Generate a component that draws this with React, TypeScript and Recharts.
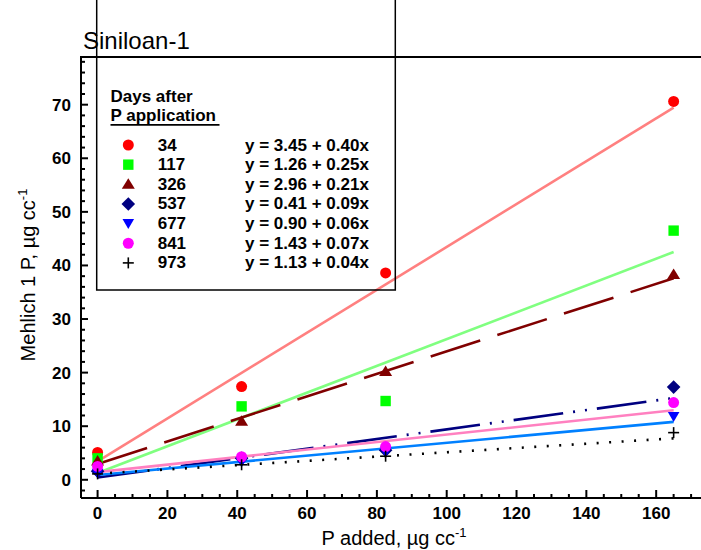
import { ComposedChart, Line, Scatter, XAxis, YAxis } from 'recharts'

// P added (µg/cc) at which the soil was sampled
const pAdded = [0, 41.25, 82.5, 165]

// Mehlich 1 P measured, one array per sampling date
const day34 = [5.1, 17.4, 38.6, 70.6]
const day117 = [4.0, 13.7, 14.7, 46.5]
const day326 = [3.5, 10.9, 20.2, 38.3]
const day537 = [1.6, 4.0, 5.5, 17.3]
const day677 = [1.2, 3.3, 5.2, 11.8]
const day841 = [2.5, 4.3, 6.2, 14.4]
const day973 = [1.1, 2.8, 4.4, 8.8]

// fitted lines, value at each end of fitX (from the printed equations)
const fitX = [0, 165]
const fit34 = [3.45, 69.45]
const fit117 = [1.26, 42.51]
const fit326 = [2.96, 37.61]
const fit537 = [0.41, 15.26]
const fit677 = [0.9, 10.8]
const fit841 = [1.43, 12.98]
const fit973 = [1.13, 7.73]

const dayLabels = ['34', '117', '326', '537', '677', '841', '973']
const equations = [
  'y = 3.45 + 0.40x',
  'y = 1.26 + 0.25x',
  'y = 2.96 + 0.21x',
  'y = 0.41 + 0.09x',
  'y = 0.90 + 0.06x',
  'y = 1.43 + 0.07x',
  'y = 1.13 + 0.04x',
]

const xMajor = [0, 20, 40, 60, 80, 100, 120, 140, 160]
const yMajor = [0, 10, 20, 30, 40, 50, 60, 70]
const xTicks: number[] = []
for (let v = 0; v <= 180; v += 5) xTicks.push(v)
const yTicks: number[] = []
for (let v = -2; v <= 78; v += 2) yTicks.push(v)

const FONT = '"Liberation Sans", Arial, sans-serif'

type Kind = 'circle' | 'square' | 'triUp' | 'diamond' | 'triDown' | 'plus'

const series = [
  { measured: day34, fit: fit34, kind: 'circle' as Kind, color: '#ff0000', line: '#ff8080', dash: undefined },
  { measured: day117, fit: fit117, kind: 'square' as Kind, color: '#00ff00', line: '#80ff80', dash: undefined },
  { measured: day326, fit: fit326, kind: 'triUp' as Kind, color: '#800000', line: '#800000', dash: '52 18' },
  { measured: day537, fit: fit537, kind: 'diamond' as Kind, color: '#000080', line: '#000080', dash: '50 10 2 10 2 10' },
  { measured: day677, fit: fit677, kind: 'triDown' as Kind, color: '#0000ff', line: '#0080ff', dash: undefined },
  { measured: day841, fit: fit841, kind: 'circle' as Kind, color: '#ff00ff', line: '#ff80c0', dash: undefined },
  { measured: day973, fit: fit973, kind: 'plus' as Kind, color: '#000000', line: '#000000', dash: '2 10.5' },
]

function Marker({ cx, cy, kind, color }: { cx: number; cy: number; kind: Kind; color: string }) {
  if (cx == null || cy == null) return null
  switch (kind) {
    case 'circle':
      return <circle cx={cx} cy={cy} r={5.5} fill={color} />
    case 'square':
      return <rect x={cx - 5.2} y={cy - 5.2} width={10.4} height={10.4} fill={color} />
    case 'triUp':
      return <polygon points={`${cx - 6.5},${cy + 4.5} ${cx + 6.5},${cy + 4.5} ${cx},${cy - 6}`} fill={color} />
    case 'triDown':
      return <polygon points={`${cx - 5.8},${cy - 4.5} ${cx + 5.8},${cy - 4.5} ${cx},${cy + 5.5}`} fill={color} />
    case 'diamond':
      return <polygon points={`${cx},${cy - 6.8} ${cx + 6.8},${cy} ${cx},${cy + 6.8} ${cx - 6.8},${cy}`} fill={color} />
    default:
      return (
        <g stroke={color} strokeWidth={1.6}>
          <line x1={cx - 5.5} x2={cx + 5.5} y1={cy} y2={cy} />
          <line x1={cx} x2={cx} y1={cy - 5.5} y2={cy + 5.5} />
        </g>
      )
  }
}

function XTick({ x, y, payload }: any) {
  const v = payload.value
  const major = xMajor.includes(v)
  return (
    <g>
      <line x1={x} x2={x} y1={y} y2={y - (major ? 8 : 4)} stroke="#000" strokeWidth={2} />
      {major && (
        <text x={x} y={y + 21} textAnchor="middle" fontFamily={FONT} fontWeight="bold" fontSize={17} fill="#000">
          {v}
        </text>
      )}
    </g>
  )
}

function YTick({ x, y, payload }: any) {
  const v = payload.value
  const major = yMajor.includes(v)
  return (
    <g>
      <line x1={x} x2={x + (major ? 7 : 4)} y1={y} y2={y} stroke="#000" strokeWidth={2} />
      {major && (
        <text x={x - 10} y={y + 6} textAnchor="end" fontFamily={FONT} fontWeight="bold" fontSize={17} fill="#000">
          {v}
        </text>
      )}
    </g>
  )
}

export default function App() {
  return (
    <div style={{ position: 'absolute', left: 0, top: 0, width: 701, height: 550, overflow: 'hidden', background: '#fff' }}>
      <ComposedChart width={740} height={550} margin={{ top: 57, right: 14, bottom: 0, left: 0 }}>
        <XAxis
          type="number"
          dataKey="x"
          domain={[-4.75, 180]}
          allowDataOverflow
          ticks={xTicks}
          interval={0}
          tickSize={0}
          tickMargin={0}
          tickLine={false}
          tick={<XTick />}
          height={52}
          axisLine={{ stroke: '#000', strokeWidth: 2 }}
        />
        <YAxis
          type="number"
          dataKey="y"
          domain={[-3.4, 78.9]}
          allowDataOverflow
          ticks={yTicks}
          interval={0}
          tickSize={0}
          tickMargin={0}
          tickLine={false}
          tick={<YTick />}
          width={81}
          axisLine={{ stroke: '#000', strokeWidth: 2 }}
        />
        {series.map((s, i) => (
          <Line
            key={'fit' + i}
            data={fitX.map((x, j) => ({ x, y: s.fit[j] }))}
            dataKey="y"
            type="linear"
            stroke={s.line}
            strokeWidth={2.6}
            strokeDasharray={s.dash}
            dot={false}
            activeDot={false}
            isAnimationActive={false}
          />
        ))}
        {series.map((s, i) => (
          <Scatter
            key={'pts' + i}
            data={pAdded.map((x, j) => ({ x, y: s.measured[j] }))}
            dataKey="y"
            isAnimationActive={false}
            shape={(p: any) => <Marker cx={p.cx} cy={p.cy} kind={s.kind} color={s.color} />}
          />
        ))}
      </ComposedChart>
      <svg
        width={701}
        height={550}
        style={{ position: 'absolute', left: 0, top: 0, pointerEvents: 'none' }}
        fontFamily={FONT}
      >
        <line x1={80} x2={701} y1={57} y2={57} stroke="#000" strokeWidth={2} />
        <rect x={96.7} y={-5} width={298.6} height={295} fill="none" stroke="#000" strokeWidth={1.5} />
        <text x={83} y={49} fontSize={24} fill="#000">Siniloan-1</text>
        <text x={110.5} y={102} fontSize={17} fontWeight="bold" fill="#000">Days after</text>
        <text x={110.5} y={121} fontSize={17} fontWeight="bold" fill="#000">P application</text>
        <line x1={110.5} x2={219.5} y1={124.8} y2={124.8} stroke="#000" strokeWidth={1.8} />
        {series.map((s, i) => (
          <g key={'leg' + i}>
            <Marker cx={128.3} cy={145 + 19.65 * i} kind={s.kind} color={s.color} />
            <text x={157.7} y={150.5 + 19.65 * i} fontSize={17} fontWeight="bold" fill="#000">{dayLabels[i]}</text>
            <text x={245} y={150.5 + 19.65 * i} fontSize={17} fontWeight="bold" fill="#000">{equations[i]}</text>
          </g>
        ))}
        <text x={394} y={545} fontSize={20} textAnchor="middle" fill="#000">
          P added, µg cc<tspan dy={-8} fontSize={13}>-1</tspan>
        </text>
        <text transform="translate(35,275) rotate(-90)" fontSize={20} textAnchor="middle" fill="#000">
          Mehlich 1 P, µg cc<tspan dy={-8} fontSize={13}>-1</tspan>
        </text>
      </svg>
    </div>
  )
}
